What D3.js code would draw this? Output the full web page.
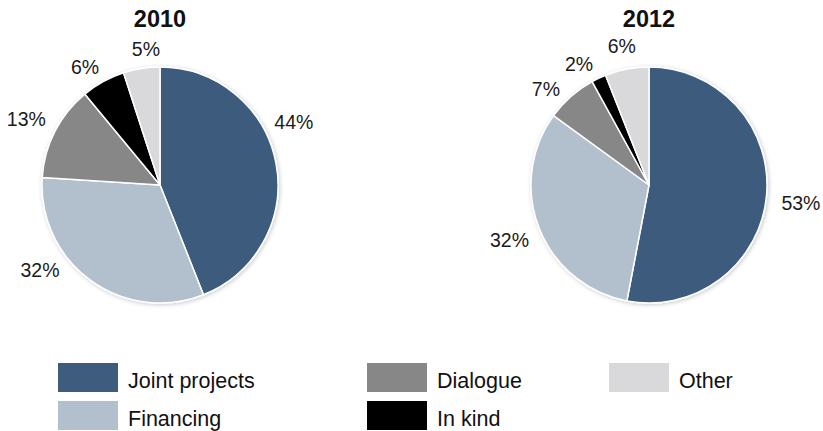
<!DOCTYPE html>
<html>
<head>
<meta charset="utf-8">
<script src="https://cdn.jsdelivr.net/npm/d3@7"></script>
<style>
  html, body { margin: 0; padding: 0; background: #ffffff; }
  svg { display: block; }
</style>
</head>
<body>
<svg id="chart" width="823" height="431"></svg>
<script>
// Shares of cooperation by type, in percent
const categories = ["Joint projects", "Financing", "Dialogue", "In kind", "Other"];
const years = ["2010", "2012"];
const values2010 = [44, 32, 13, 6, 5];
const values2012 = [53, 32, 7, 2, 6];
const colors = ["#3e5c7d", "#b2bfcd", "#878787", "#000000", "#d9d9db"];

// Label placement: angular nudge from slice centre (degrees) and distance from pie centre
const labelNudge2010 = [-14.5, 18.7, -0.8, -3.6, 3.1];
const labelRadius2010 = [148, 147, 149, 140, 137];
const labelNudge2012 = [1.4, 0, -5.6, -4.8, -0.3];
const labelRadius2012 = [153, 150, 141, 140, 141];

const svg = d3.select("#chart");

const defs = svg.append("defs");
const shadow = defs.append("filter")
  .attr("id", "pieShadow")
  .attr("x", "-10%").attr("y", "-10%")
  .attr("width", "120%").attr("height", "120%");
shadow.append("feDropShadow")
  .attr("dx", 1).attr("dy", 1)
  .attr("stdDeviation", 2)
  .attr("flood-color", "#000")
  .attr("flood-opacity", 0.22);

const radius = 118;
const color = d3.scaleOrdinal().domain(categories).range(colors);

const pie = d3.pie()
  .sort(null)
  .value(d => d.value);

const arc = d3.arc().innerRadius(0).outerRadius(radius);

const pies = [
  { year: years[0], values: values2010, nudge: labelNudge2010, lr: labelRadius2010, cx: 160, cy: 185 },
  { year: years[1], values: values2012, nudge: labelNudge2012, lr: labelRadius2012, cx: 649, cy: 185 }
];

pies.forEach(p => {
  const data = categories.map((c, i) => ({ name: c, value: p.values[i] }));
  const arcs = pie(data);

  const g = svg.append("g").attr("transform", `translate(${p.cx},${p.cy})`);

  g.append("text")
    .attr("x", 0)
    .attr("y", 27 - p.cy)
    .attr("text-anchor", "middle")
    .attr("font-family", "'Liberation Sans', Arial, sans-serif")
    .attr("font-weight", "bold")
    .attr("font-size", 23.5)
    .attr("fill", "#111")
    .text(p.year);

  const slices = g.append("g").attr("filter", "url(#pieShadow)");
  slices.selectAll("path")
    .data(arcs)
    .join("path")
    .attr("d", arc)
    .attr("fill", d => color(d.data.name))
    .attr("stroke", "#ffffff")
    .attr("stroke-width", 1.5)
    .attr("stroke-linejoin", "round");

  g.selectAll("text.pct")
    .data(arcs)
    .join("text")
    .attr("class", "pct")
    .attr("transform", (d, i) => {
      const a = (d.startAngle + d.endAngle) / 2 + p.nudge[i] * Math.PI / 180;
      const r = p.lr[i];
      return `translate(${r * Math.sin(a)},${-r * Math.cos(a)})`;
    })
    .attr("text-anchor", "middle")
    .attr("dy", "0.35em")
    .attr("font-family", "'Liberation Sans', Arial, sans-serif")
    .attr("font-size", 19.5)
    .attr("fill", "#1a1a1a")
    .text(d => d.data.value + "%");
});

// Legend: two rows, filled column by column
const legendCols = [58, 367, 609];
const legendRows = [363, 401];
const legend = svg.append("g");
const items = legend.selectAll("g")
  .data(categories)
  .join("g")
  .attr("transform", (d, i) => `translate(${legendCols[Math.floor(i / 2)]},${legendRows[i % 2]})`);

items.append("rect")
  .attr("width", 60)
  .attr("height", 29)
  .attr("fill", d => color(d));

items.append("text")
  .attr("x", 70)
  .attr("y", 24.5)
  .attr("font-family", "'Liberation Sans', Arial, sans-serif")
  .attr("font-size", 21.5)
  .attr("fill", "#111")
  .text(d => d);
</script>
</body>
</html>
